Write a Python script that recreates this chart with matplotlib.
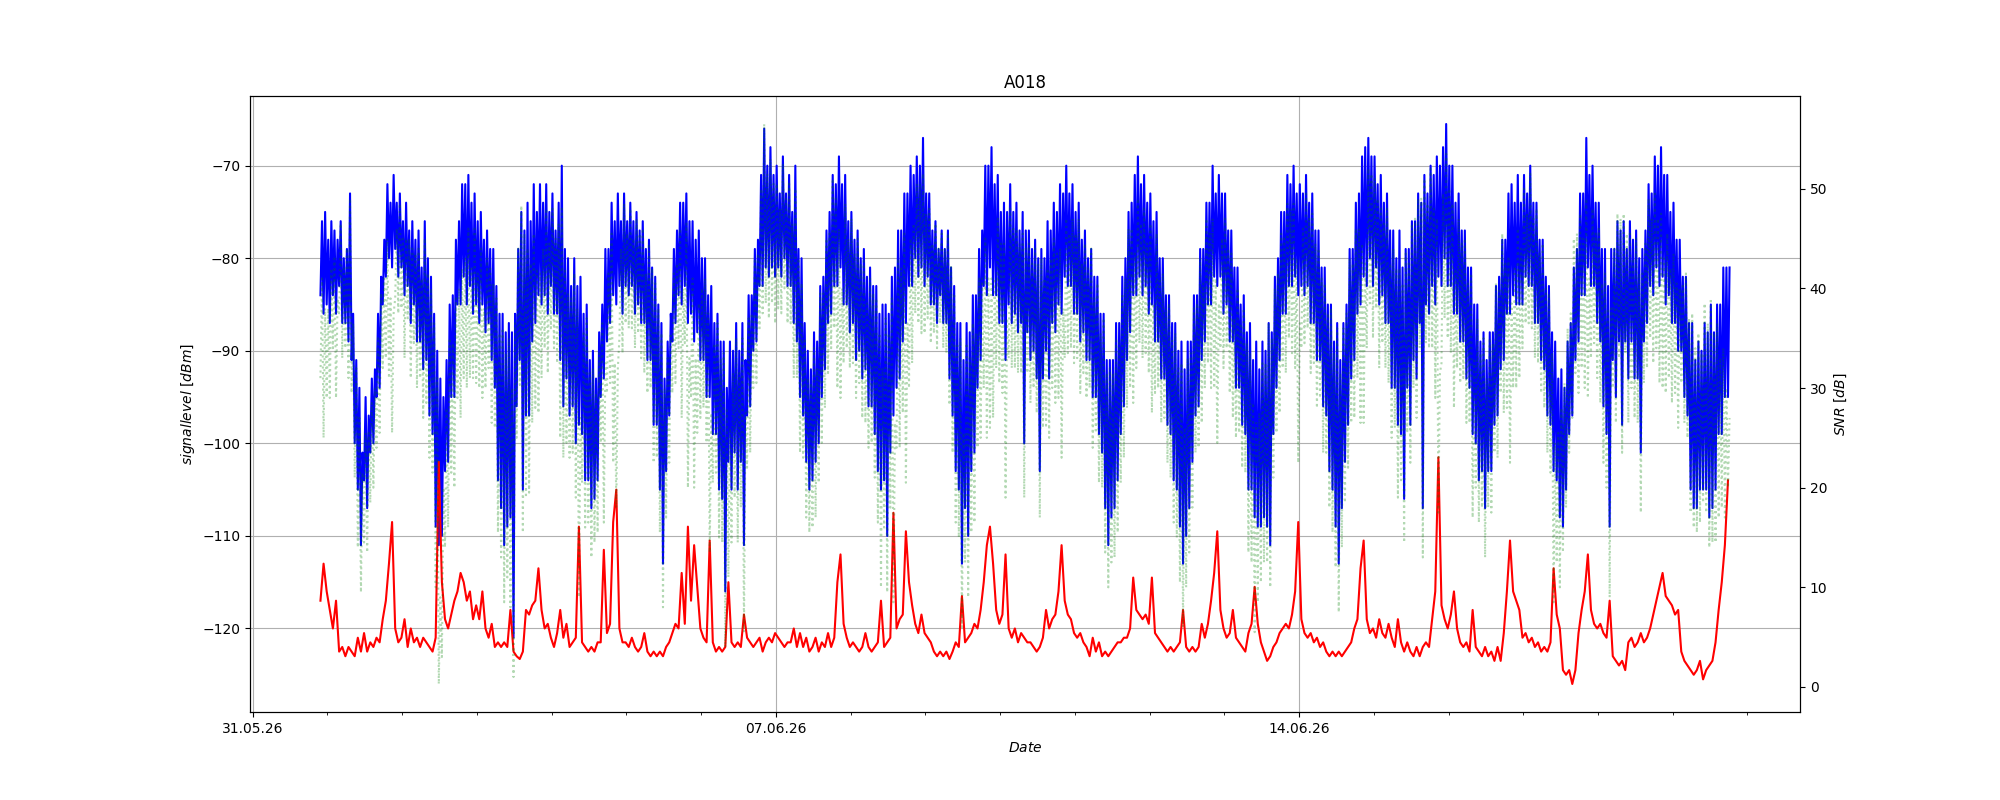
import pandas as pd
import matplotlib
matplotlib.use('Agg')
import matplotlib.pyplot as plt
import matplotlib.dates as mdates

# hourly readings, first sample 31.05.26 21:45
start_time = '2026-05-31 21:45'

# signal level: lowest and highest reading inside each hour
signal_low = [
    -84, -86, -85, -87, -84, -86, -83, -87, -87, -89, -91, -100,
    -105, -111, -104, -107, -101, -100, -95, -94, -85, -82, -80, -81,
    -79, -82, -81, -84, -83, -87, -85, -89, -89, -92, -91, -97,
    -99, -109, -111, -110, -103, -102, -95, -95, -85, -85, -82, -85,
    -83, -86, -85, -87, -85, -88, -87, -91, -94, -104, -107, -111,
    -109, -108, -121, -96, -91, -105, -97, -97, -89, -87, -84, -85,
    -84, -86, -83, -86, -86, -91, -96, -93, -97, -96, -100, -98,
    -99, -104, -104, -107, -106, -104, -95, -93, -89, -87, -84, -85,
    -83, -86, -83, -84, -83, -86, -85, -87, -87, -91, -91, -98,
    -98, -105, -113, -103, -97, -89, -87, -84, -85, -83, -87, -86,
    -89, -88, -91, -91, -95, -95, -99, -99, -105, -106, -116, -102,
    -105, -101, -105, -102, -111, -97, -96, -90, -89, -83, -83, -81,
    -82, -81, -82, -81, -82, -80, -83, -83, -87, -89, -95, -97,
    -102, -105, -104, -102, -100, -95, -92, -87, -86, -83, -83, -81,
    -85, -85, -88, -87, -91, -90, -93, -92, -96, -96, -99, -103,
    -105, -104, -110, -101, -97, -94, -93, -89, -87, -83, -83, -80,
    -82, -81, -83, -82, -85, -85, -87, -84, -87, -87, -93, -97,
    -103, -105, -113, -107, -110, -103, -101, -94, -91, -83, -84, -81,
    -84, -84, -87, -87, -91, -85, -87, -86, -88, -87, -100, -88,
    -91, -90, -93, -103, -93, -90, -93, -87, -88, -85, -86, -82,
    -83, -83, -86, -86, -89, -88, -91, -91, -95, -95, -99, -101,
    -107, -111, -108, -107, -104, -99, -96, -91, -88, -84, -84, -82,
    -84, -83, -86, -85, -89, -89, -93, -93, -98, -99, -104, -105,
    -109, -113, -110, -107, -102, -97, -96, -91, -89, -85, -85, -82,
    -83, -82, -86, -85, -89, -89, -94, -94, -98, -99, -105, -105,
    -108, -109, -109, -108, -109, -111, -99, -94, -91, -86, -86, -83,
    -83, -82, -84, -83, -84, -83, -87, -87, -91, -91, -96, -97,
    -103, -105, -109, -113, -107, -102, -98, -93, -91, -86, -85, -82,
    -83, -80, -83, -81, -85, -84, -87, -87, -94, -94, -98, -99,
    -106, -94, -98, -91, -93, -87, -107, -85, -86, -83, -85, -82,
    -83, -80, -83, -83, -86, -86, -89, -89, -93, -94, -99, -100,
    -104, -103, -107, -103, -103, -98, -97, -92, -91, -86, -86, -84,
    -85, -85, -85, -82, -83, -83, -87, -87, -91, -92, -97, -98,
    -103, -104, -108, -109, -105, -99, -97, -91, -89, -84, -84, -81,
    -83, -83, -87, -89, -96, -99, -109, -91, -95, -89, -98, -89,
    -93, -89, -93, -93, -101, -89, -87, -83, -84, -81, -83, -82,
    -85, -84, -87, -87, -90, -90, -95, -97, -105, -107, -107, -105,
    -105, -105, -108, -107, -105, -99, -99, -95, -95,
]

signal_high = [
    -76, -75, -78, -76, -77, -78, -76, -80, -79, -73, -86, -91,
    -94, -101, -95, -97, -93, -92, -86, -82, -78, -72, -74, -71,
    -74, -73, -76, -74, -77, -76, -78, -77, -81, -76, -80, -82,
    -86, -90, -93, -95, -91, -85, -84, -78, -76, -72, -72, -71,
    -74, -73, -76, -75, -78, -77, -79, -79, -83, -86, -86, -88,
    -87, -88, -86, -79, -75, -77, -74, -76, -72, -75, -72, -74,
    -72, -75, -73, -77, -74, -70, -79, -80, -83, -80, -83, -82,
    -86, -85, -91, -90, -93, -88, -85, -79, -79, -74, -76, -73,
    -76, -73, -76, -74, -76, -75, -77, -76, -79, -78, -81, -82,
    -85, -87, -93, -89, -86, -79, -77, -74, -74, -73, -76, -76,
    -78, -77, -80, -80, -84, -83, -87, -86, -89, -89, -94, -89,
    -90, -87, -90, -87, -91, -84, -84, -79, -78, -71, -66, -70,
    -68, -71, -70, -73, -69, -73, -71, -75, -70, -79, -80, -87,
    -90, -92, -88, -89, -83, -82, -77, -75, -71, -72, -69, -72,
    -71, -76, -75, -78, -77, -80, -79, -82, -81, -83, -83, -86,
    -85, -85, -86, -82, -81, -77, -77, -73, -73, -70, -71, -69,
    -70, -67, -73, -73, -77, -76, -79, -77, -79, -77, -81, -83,
    -87, -87, -91, -87, -88, -84, -84, -79, -77, -70, -70, -68,
    -72, -71, -75, -74, -75, -72, -75, -74, -77, -75, -77, -77,
    -79, -78, -80, -79, -80, -76, -77, -74, -75, -72, -73, -70,
    -73, -72, -75, -74, -78, -77, -80, -79, -82, -82, -86, -86,
    -91, -91, -91, -87, -87, -82, -80, -75, -74, -71, -69, -72,
    -71, -74, -73, -76, -75, -80, -80, -84, -84, -87, -87, -90,
    -89, -92, -89, -89, -84, -84, -79, -79, -74, -74, -70, -73,
    -71, -73, -73, -77, -77, -81, -81, -85, -84, -88, -87, -91,
    -89, -92, -89, -90, -87, -88, -82, -80, -75, -75, -71, -72,
    -70, -73, -72, -73, -71, -74, -73, -77, -77, -81, -81, -85,
    -85, -89, -87, -91, -87, -85, -79, -79, -74, -73, -69, -68,
    -67, -69, -69, -72, -71, -74, -73, -77, -77, -80, -77, -81,
    -79, -79, -76, -76, -73, -74, -71, -73, -70, -71, -69, -70,
    -68, -65.5, -70, -70, -74, -73, -77, -77, -81, -81, -85, -85,
    -89, -88, -91, -88, -88, -83, -82, -78, -78, -73, -72, -74,
    -71, -74, -71, -73, -70, -74, -74, -78, -78, -82, -83, -88,
    -89, -93, -92, -94, -89, -87, -81, -79, -73, -73, -67, -71,
    -70, -74, -74, -79, -79, -83, -79, -79, -76, -77, -76, -79,
    -76, -78, -77, -80, -79, -77, -72, -73, -69, -70, -68, -71,
    -71, -75, -74, -78, -78, -82, -82, -87, -87, -91, -89, -90,
    -87, -88, -85, -88, -85, -85, -81, -81, -81,
]

noise = [
    -117, -113, -116, -118, -120, -117, -122.5, -122, -123, -122, -122.5, -123,
    -121, -122.5, -120.5, -122.5, -121.5, -122, -121, -121.5, -119, -117, -113, -108.5,
    -120, -121.5, -121, -119, -122, -120, -121.5, -121, -122, -121, -121.5, -122,
    -122.5, -121, -102, -115, -119, -120, -118.5, -117, -116, -114, -115, -117,
    -116, -119, -117.5, -119, -116, -120, -121, -119.5, -122, -121.5, -122, -121.5,
    -122, -118, -122.5, -123, -123.3, -122.5, -118, -118.5, -117.5, -117, -113.5, -118,
    -120, -119.5, -121, -122, -120.5, -118, -121, -119.5, -122, -121.5, -121, -109,
    -121.5, -122, -122.5, -122, -122.5, -121.5, -121.5, -111.5, -120.5, -119.5, -108.5, -105,
    -120, -121.5, -121.5, -122, -121, -122, -122.5, -122, -120.5, -122.5, -123, -122.5,
    -123, -122.5, -123, -122, -121.5, -120.5, -119.5, -120, -114, -119.5, -109, -117,
    -111, -115.5, -120, -121, -121.5, -110.5, -121.5, -122.5, -122, -122.5, -122, -115,
    -121.5, -122, -121.5, -122, -118.5, -121, -121.5, -122, -121.5, -121, -122.5, -121.5,
    -121, -121.5, -120.5, -121, -121.5, -122, -121.5, -121.5, -120, -122, -120.5, -122,
    -121, -122.5, -122, -121, -122.5, -121.5, -122, -120.5, -122, -121, -115, -112,
    -119.5, -121, -122, -121.5, -122, -122.5, -122, -120.5, -122, -122.5, -122, -121.5,
    -117, -122, -121.5, -121, -107.5, -120, -119, -118.5, -109.5, -115, -117.5, -119.5,
    -120.5, -118.5, -120.5, -121, -121.5, -122.5, -123, -122.5, -123, -122.5, -123.3, -122.5,
    -121.5, -122, -116.5, -121.5, -121, -120.5, -119.5, -120, -118, -115, -111, -109,
    -113, -118, -119.5, -118.5, -112, -120, -121, -120, -121.5, -120.5, -121, -121.5,
    -121.5, -122, -122.5, -122, -121, -118, -120, -119, -118.5, -116, -111, -117,
    -118.5, -119, -120.5, -121, -120.5, -121.5, -122, -123, -121, -122.5, -121.5, -123,
    -122.5, -123, -122.5, -122, -121.5, -121.5, -121, -121, -120, -114.5, -118, -118.5,
    -119, -118.5, -119.5, -114.5, -120.5, -121, -121.5, -122, -122.5, -122, -122.5, -122,
    -121.5, -118, -122, -122.5, -122, -122.5, -122, -119.5, -121, -119.5, -117, -114,
    -109.5, -118, -120, -121, -120.5, -118, -121, -121.5, -122, -122.5, -120.5, -119.5,
    -115.5, -119.5, -121.5, -122.5, -123.5, -123, -122, -121.5, -120.5, -120, -119.5, -120,
    -118.5, -116, -108.5, -119, -120.5, -121, -120.5, -121.5, -121, -122, -121.5, -122.5,
    -123, -122.5, -123, -122.5, -123, -122.5, -122, -121.5, -120, -119, -113.5, -110.5,
    -119, -120.5, -120, -121, -119, -120.5, -121, -119.5, -121, -122, -119, -121.5,
    -122.5, -121.5, -122.5, -123, -122, -123, -122, -121.5, -122, -119, -116, -101.5,
    -117.5, -119, -120, -118.5, -116, -120, -121.5, -122, -121.5, -122.5, -118, -122,
    -122.5, -123, -122, -123, -122.5, -123.5, -122, -123.5, -120.5, -116, -110.5, -116,
    -117, -118, -121, -120.5, -121.5, -121, -122, -121.5, -122.5, -122, -122.5, -121.5,
    -113.5, -118.5, -120, -124.5, -125, -124.5, -126, -124.5, -120.5, -118, -116, -112,
    -118, -119.5, -120, -119.5, -120.5, -121, -117, -123, -123.5, -124, -123.5, -124.5,
    -121.5, -121, -122, -121.5, -120.5, -121.5, -121, -120, -118.5, -117, -115.5, -114,
    -116.5, -117, -117.5, -118.5, -118, -122.5, -123.5, -124, -124.5, -125, -124.5, -123.5,
    -125.5, -124.5, -124, -123.5, -121.5, -118, -115, -111, -104,
]

# SNR: lowest and highest reading inside each hour
snr_low = [
    31, 25, 29, 29, 34, 29, 37.5, 33, 34, 31, 29.5, 21,
    14, 9.5, 14.5, 13.5, 18.5, 20, 24, 25.5, 32, 33, 31, 25.5,
    39, 37.5, 38, 33, 37, 31, 34.5, 30, 31, 27, 28.5, 23,
    21.5, 10, 0.3, 3, 14, 16, 21.5, 20, 29, 27, 31, 30,
    31, 31, 30.5, 30, 29, 30, 32, 26.5, 26, 15.5, 13, 8.5,
    11, 8, 1, 25, 30.3, 15.5, 19, 19.5, 26.5, 28, 27.5, 31,
    34, 31.5, 36, 34, 32.5, 25, 23, 24.5, 23, 23.5, 19, 9,
    20.5, 16, 16.5, 13, 14.5, 15.5, 24.5, 16.5, 29.5, 30.5, 22.5, 18,
    35, 33.5, 36.5, 36, 36, 34, 35.5, 33, 31.5, 29.5, 30, 22.5,
    23, 15.5, 8, 17, 22.5, 29.5, 30.5, 34, 27, 34.5, 20, 29,
    20, 25.5, 27, 28, 24.5, 13.5, 20.5, 21.5, 15, 14.5, 4, 11,
    14.5, 19, 14.5, 18, 5.5, 22, 23.5, 30, 30.5, 36, 37.5, 38.5,
    37, 38.5, 36.5, 38, 37.5, 40, 36.5, 36.5, 31, 31, 23.5, 23,
    17, 15.5, 16, 17, 20.5, 24.5, 28, 31.5, 34, 36, 30, 29,
    32.5, 34, 32, 32.5, 29, 30.5, 27, 26.5, 24, 24.5, 21, 16.5,
    10, 16, 9.5, 18, 8.5, 24, 24, 27.5, 20.5, 30, 32.5, 37.5,
    36.5, 35.5, 35.5, 37, 34.5, 35.5, 34, 36.5, 34, 33.5, 28.3, 23.5,
    16.5, 15, 6, 12.5, 9, 15.5, 16.5, 24, 25, 30, 25, 26,
    27, 32, 30.5, 29.5, 19, 33, 32, 32, 31.5, 31.5, 19, 31.5,
    28.5, 30, 27.5, 17, 26, 26, 25, 30, 28.5, 29, 23, 33,
    33.5, 34, 32.5, 33, 29.5, 31.5, 29, 30, 24, 25.5, 20.5, 20,
    13.5, 10, 12.5, 13, 15.5, 20.5, 23, 28, 30, 28.5, 32, 34.5,
    33, 33.5, 31.5, 27.5, 29.5, 30, 26.5, 27, 22.5, 21, 16.5, 15,
    10.5, 6, 10, 13.5, 18, 23.5, 24, 26.5, 30, 32.5, 30, 30,
    24.5, 34, 32, 34, 29.5, 27, 25, 25.5, 22, 21.5, 13.5, 12.5,
    5.5, 8.5, 10.5, 12.5, 12.5, 10, 21, 25.5, 27.5, 32, 31.5, 35,
    33.5, 32, 22.5, 34, 34.5, 36, 31.5, 32.5, 28, 29, 23.5, 23.5,
    18, 15.5, 12, 7.5, 14, 18.5, 22, 26.5, 27, 31, 26.5, 26.5,
    34, 38.5, 35, 38, 32, 34.5, 32, 30.5, 25, 26, 19, 20.5,
    14.5, 25.5, 22.5, 30, 27, 34, 13, 34.5, 34, 34, 29, 17.5,
    32.5, 37, 35, 33.5, 28, 32, 30.5, 31, 26.5, 26.5, 17, 20,
    16.5, 18, 13, 18, 17.5, 23.5, 23, 29.5, 27.5, 28, 22.5, 30,
    30, 31, 34, 36.5, 36.5, 36, 33, 32.5, 29.5, 28, 23.5, 21.5,
    8.5, 12.5, 10, 13.5, 18, 23.5, 27, 31.5, 29.5, 32, 30, 29,
    33, 34.5, 31, 28.5, 22.5, 20, 9, 30, 26.5, 33, 23.5, 33.5,
    26.5, 30, 27, 26.5, 17.5, 30.5, 32, 35, 32.5, 34, 30.5, 30,
    29.5, 31, 28.5, 29.5, 26, 30.5, 26.5, 25, 17.5, 16, 15.5, 16.5,
    18.5, 17.5, 14, 14.5, 14.5, 17, 18, 17, 20,
]

snr_high = [
    41, 38, 38, 42, 43, 39, 46.5, 42, 44, 49, 36.5, 32,
    27, 21.5, 25.5, 25.5, 28.5, 30, 35, 39.5, 41, 45, 39, 37.5,
    46, 48.5, 45, 45, 45, 44, 43.5, 44, 41, 45, 41.5, 40,
    36.5, 31, 9, 20, 28, 35, 34.5, 39, 40, 42, 43, 46,
    42, 46, 41.5, 44, 38, 43, 42, 40.5, 39, 35.5, 36, 33.5,
    35, 30, 36.5, 44, 48.3, 45.5, 44, 42.5, 45.5, 42, 41.5, 44,
    48, 44.5, 48, 45, 46.5, 48, 42, 39.5, 39, 41.5, 38, 27,
    35.5, 37, 31.5, 32, 29.5, 33.5, 36.5, 32.5, 41.5, 45.5, 32.5, 32,
    44, 48.5, 45.5, 48, 45, 47, 45.5, 46, 41.5, 44.5, 42, 40.5,
    38, 35.5, 30, 33, 35.5, 41.5, 42.5, 46, 40, 46.5, 33, 41,
    33, 38.5, 40, 41, 37.5, 27.5, 34.5, 36.5, 33, 33.5, 28, 26,
    31.5, 35, 31.5, 35, 27.5, 37, 37.5, 43, 43.5, 50, 56.5, 51.5,
    53, 50.5, 50.5, 48, 52.5, 49, 50.5, 46.5, 50, 43, 40.5, 35,
    31, 30.5, 34, 32, 39.5, 39.5, 45, 45.5, 51, 49, 46, 40,
    48.5, 45, 47, 43.5, 45, 42.5, 43, 38.5, 41, 39.5, 39, 35.5,
    32, 37, 35.5, 39, 26.5, 43, 42, 45.5, 36.5, 45, 46.5, 50.5,
    50.5, 51.5, 47.5, 48, 44.5, 46.5, 44, 45.5, 44, 45.5, 42.3, 39.5,
    34.5, 35, 25.5, 34.5, 33, 36.5, 35.5, 41, 41, 45, 41, 41,
    41, 47, 44.5, 44.5, 37, 48, 46, 46, 44.5, 45.5, 44, 44.5,
    42.5, 44, 42.5, 43, 41, 42, 43, 45, 43.5, 44, 38, 47,
    45.5, 47, 45.5, 47, 42.5, 44.5, 42, 44, 39, 40.5, 35.5, 37,
    31.5, 32, 31.5, 35, 34.5, 39.5, 41, 46, 46, 43.5, 49, 46.5,
    48, 44.5, 46.5, 38.5, 45.5, 41, 41.5, 38, 38.5, 35, 35.5, 32,
    32.5, 26, 33, 33.5, 38, 38.5, 43, 40.5, 47, 45.5, 47, 41,
    38.5, 45, 47, 44, 43.5, 37, 40, 36.5, 38, 34.5, 33.5, 28.5,
    26.5, 27.5, 32.5, 32.5, 36.5, 35, 40, 41.5, 45.5, 45, 48.5, 48,
    48.5, 43, 36.5, 46, 49.5, 47, 47.5, 44.5, 44, 41, 40.5, 37.5,
    38, 33.5, 36, 31.5, 36, 37.5, 43, 42.5, 46, 46, 44.5, 42.5,
    52, 51.5, 51, 49, 48, 46.5, 48, 42.5, 44, 42, 42, 40.5,
    43.5, 42.5, 46.5, 47, 49, 49, 51, 48.5, 52, 48, 47, 31.5,
    49.5, 53.5, 50, 48.5, 42, 47, 44.5, 45, 40.5, 41.5, 33, 37,
    33.5, 35, 31, 35, 34.5, 40.5, 40, 45.5, 42.5, 43, 38.5, 42,
    46, 44, 50, 47.5, 51.5, 47, 48, 43.5, 44.5, 40, 39.5, 33.5,
    24.5, 25.5, 28, 30.5, 36, 37.5, 45, 45.5, 47.5, 45, 49, 41,
    48, 45.5, 46, 40.5, 41.5, 38, 38, 44, 47.5, 47, 47.5, 45.5,
    45.5, 43, 45, 41.5, 41.5, 44.5, 49, 47, 49.5, 47, 47.5, 43,
    45.5, 42, 43.5, 40.5, 40, 40.5, 41.5, 37, 37.5, 34, 35.5, 33.5,
    38.5, 36.5, 39, 35.5, 36.5, 33, 34, 30, 27,
]

hours = pd.date_range(start_time, periods=len(noise), freq='h')

# low and high reading of each hour, half an hour apart
half_hours = pd.date_range(start_time, periods=2 * len(signal_low), freq='30min')
sig_vals = [v for pair in zip(signal_low, signal_high) for v in pair]
snr_vals = [v for pair in zip(snr_low, snr_high) for v in pair]

fig, ax1 = plt.subplots(figsize=(20, 8), dpi=100)
ax1.plot(half_hours, sig_vals, 'b-')
ax1.plot(hours, noise, 'r-')
ax1.set_title('A018')
ax1.set_xlabel('$Date$')
ax1.set_ylabel(r'$signal level\ [dBm]$')
ax1.grid(True)

ax1.xaxis.set_major_locator(mdates.WeekdayLocator(byweekday=mdates.SU))
ax1.xaxis.set_minor_locator(mdates.DayLocator())
ax1.xaxis.set_major_formatter(mdates.DateFormatter('%d.%m.%y'))

ax2 = ax1.twinx()
ax2.plot(half_hours, snr_vals, 'g:', alpha=0.3)
ax2.set_ylabel(r'$SNR\ [dB]$')

plt.savefig('out.png', dpi=100)
